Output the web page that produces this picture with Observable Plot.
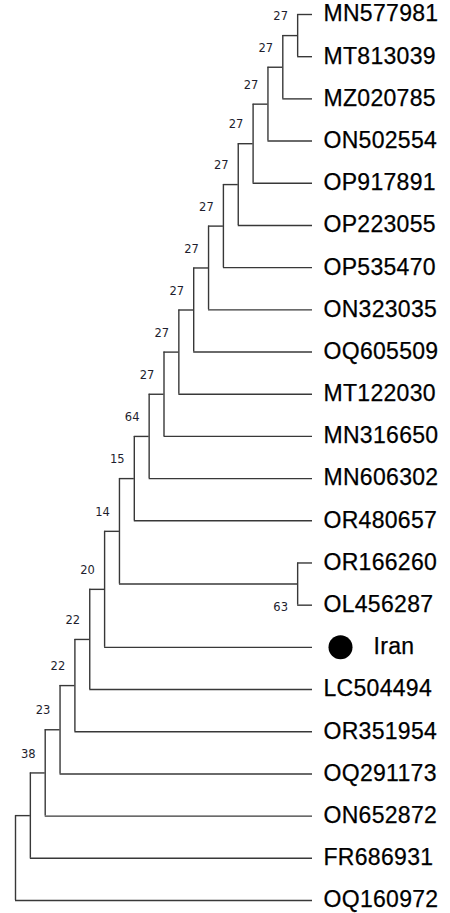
<!DOCTYPE html>
<html>
<head>
<meta charset="utf-8">
<script src="https://cdn.jsdelivr.net/npm/d3@7"></script>
<script src="https://cdn.jsdelivr.net/npm/@observablehq/plot@0.6"></script>
<style>
  html, body { margin: 0; padding: 0; background: #fff; }
  #chart svg { display: block; overflow: visible; }
</style>
</head>
<body>
<div id="chart"></div>
<script>
// Leaf order (top to bottom)
const leaves = [
  "MN577981", "MT813039", "MZ020785", "ON502554", "OP917891", "OP223055",
  "OP535470", "ON323035", "OQ605509", "MT122030", "MN316650", "MN606302",
  "OR480657", "OR166260", "OL456287", "Iran", "LC504494", "OR351954",
  "OQ291173", "ON652872", "FR686931", "OQ160972"
];
// Internal nodes: [id, child A, child B, bootstrap support]
const clades = [
  ["c1", "MN577981", "MT813039", 27],
  ["c2", "c1", "MZ020785", 27],
  ["c3", "c2", "ON502554", 27],
  ["c4", "c3", "OP917891", 27],
  ["c5", "c4", "OP223055", 27],
  ["c6", "c5", "OP535470", 27],
  ["c7", "c6", "ON323035", 27],
  ["c8", "c7", "OQ605509", 27],
  ["c9", "c8", "MT122030", 27],
  ["c10", "c9", "MN316650", 27],
  ["c11", "c10", "MN606302", 64],
  ["c12", "c11", "OR480657", 15],
  ["c13", "OR166260", "OL456287", 63],
  ["c14", "c12", "c13", 14],
  ["c15", "c14", "Iran", 20],
  ["c16", "c15", "LC504494", 22],
  ["c17", "c16", "OR351954", 22],
  ["c18", "c17", "OQ291173", 23],
  ["c19", "c18", "ON652872", 38],
  ["c20", "c19", "FR686931", null],
  ["root", "c20", "OQ160972", null]
];
// Highlighted sample (marked with a filled circle)
const highlighted = ["Iran"];
// Support labels drawn beneath their node
const supportBelow = ["c13"];

// Build cladogram geometry (x = node height, y = leaf order index)
const nodes = new Map();
leaves.forEach((name, i) => nodes.set(name, {id: name, y: i, h: 0, leaf: true}));
for (const [id, a, b, bs] of clades) {
  const A = nodes.get(a), B = nodes.get(b);
  const n = {id, y: (A.y + B.y) / 2, h: 1 + Math.max(A.h, B.h), bs, leaf: false, children: [A, B]};
  A.parent = n; B.parent = n;
  nodes.set(id, n);
}
const all = Array.from(nodes.values());
const hEdges = all.filter(n => n.parent).map(n => ({x1: n.parent.h, x2: n.h, y: n.y}));
const vEdges = all.filter(n => !n.leaf).map(n => ({x: n.h, y1: d3.min(n.children, c => c.y), y2: d3.max(n.children, c => c.y)}));
const leafNodes = all.filter(n => n.leaf);
const plainLeaves = leafNodes.filter(n => !highlighted.includes(n.id));
const hiLeaves = leafNodes.filter(n => highlighted.includes(n.id));
const supAbove = all.filter(n => !n.leaf && n.bs != null && !supportBelow.includes(n.id));
const supBelow = all.filter(n => !n.leaf && n.bs != null && supportBelow.includes(n.id));
const rootH = d3.max(all, n => n.h);

const lineColor = "#383838";
const leafFont = "Liberation Sans, Arial, sans-serif";
const supFont = "DejaVu Sans, sans-serif";
const leafText = {textAnchor: "start", fontSize: 23, fill: "#000", stroke: "#000", strokeWidth: 0.25, fontFamily: leafFont};
const chart = Plot.plot({
  width: 450,
  height: 913,
  marginLeft: 15,
  marginRight: 138,
  marginTop: 14,
  marginBottom: 13,
  x: {domain: [rootH, 0], axis: null},
  y: {domain: [leaves.length - 1, 0], axis: null},
  marks: [
    Plot.ruleY(hEdges, {y: "y", x1: "x1", x2: "x2", stroke: lineColor, strokeWidth: 1.4}),
    Plot.ruleX(vEdges, {x: "x", y1: "y1", y2: "y2", stroke: lineColor, strokeWidth: 1.4}),
    Plot.text(plainLeaves, {x: "h", y: "y", text: "id", dx: 11, dy: -0.5, ...leafText}),
    Plot.dot(hiLeaves, {x: "h", y: "y", r: 12, fill: "#000", stroke: "none", dx: 28}),
    Plot.text(hiLeaves, {x: "h", y: "y", text: "id", dx: 61, dy: -0.5, ...leafText}),
    Plot.text(supAbove, {x: "h", y: "y", text: d => String(d.bs), dx: -17, dy: -19, fontSize: 11.5, fill: "#1e1e2e", fontFamily: supFont}),
    Plot.text(supBelow, {x: "h", y: "y", text: d => String(d.bs), dx: -17, dy: 23, fontSize: 11.5, fill: "#1e1e2e", fontFamily: supFont})
  ]
});
d3.select(chart).selectAll("text")
  .filter(function() { return leaves.includes(this.textContent); })
  .style("letter-spacing", "0.3px");
document.getElementById("chart").append(chart);
</script>
</body>
</html>
